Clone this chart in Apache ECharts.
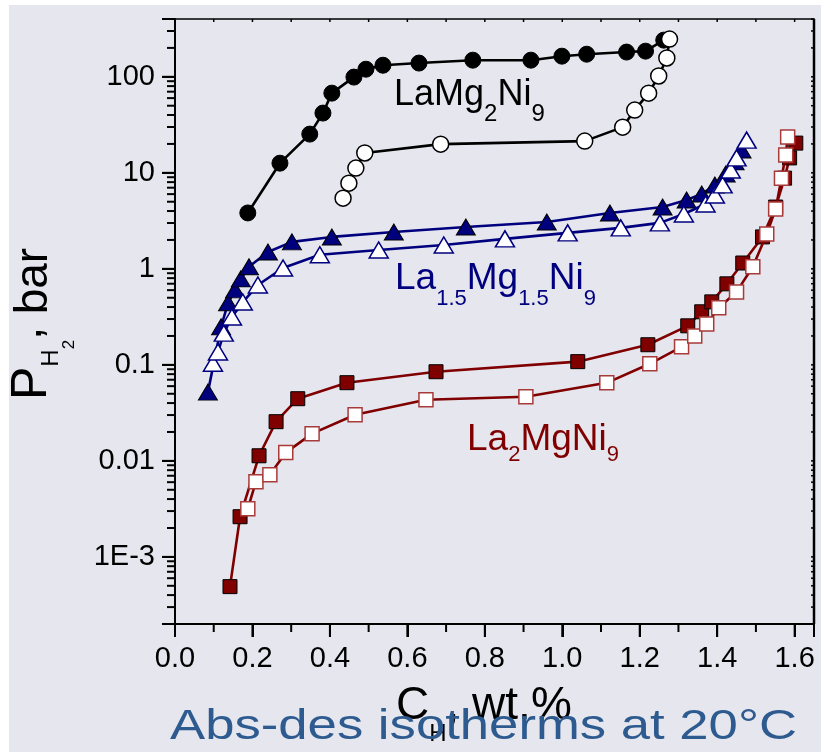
<!DOCTYPE html>
<html><head><meta charset="utf-8">
<script src="https://cdn.jsdelivr.net/npm/echarts@6/dist/echarts.min.js"></script>
<style>html,body{margin:0;padding:0;background:#fff}#c{width:821px;height:752px}</style>
</head><body><div id="c"></div>
<script>
// ---------- data ----------
const lamg2AbsX = [0.188,0.271,0.348,0.382,0.405,0.462,0.493,0.537,0.630,0.769,0.919,0.999,1.063,1.166,1.215,1.262];
const lamg2AbsY = [3.82,12.6,25.3,41.9,67.6,99.3,120,132,139,149,149,164,172,181,185,241];
const lamg2DesX = [0.434,0.449,0.467,0.490,0.686,1.058,1.156,1.187,1.223,1.249,1.270,1.277];
const lamg2DesY = [5.45,7.8,11.2,16.1,19.9,21.4,29.9,45,67.6,102,157,247];

const la15AbsX = [0.085,0.119,0.137,0.155,0.170,0.191,0.240,0.302,0.405,0.565,0.751,0.960,1.123,1.259,1.321,1.360,1.394,1.422,1.445,1.463];
const la15AbsY = [0.052,0.249,0.443,0.604,0.786,1.05,1.50,1.91,2.15,2.42,2.73,3.08,3.82,4.41,5.21,6.02,7.47,9.7,13.0,17.3];
const la15DesX = [0.098,0.111,0.126,0.147,0.175,0.214,0.279,0.374,0.526,0.694,0.852,1.014,1.151,1.252,1.314,1.370,1.394,1.414,1.435,1.450,1.476];
const la15DesY = [0.104,0.136,0.214,0.315,0.451,0.678,1.02,1.40,1.57,1.77,2.05,2.37,2.67,3.01,3.73,4.74,5.88,7.5,10.7,14.3,21.9];

const la2AbsX = [0.142,0.168,0.217,0.261,0.317,0.444,0.674,1.040,1.221,1.324,1.360,1.386,1.425,1.466,1.517,1.551,1.574,1.587,1.603];
const la2AbsY = [4.9e-4,2.62e-3,0.0113,0.0256,0.0444,0.0652,0.0848,0.108,0.162,0.255,0.357,0.453,0.698,1.15,2.15,4.4,8.8,14.3,20.4];
const la2DesX = [0.188,0.209,0.245,0.286,0.354,0.465,0.648,0.906,1.115,1.226,1.308,1.342,1.373,1.404,1.450,1.492,1.528,1.551,1.566,1.577,1.582];
const la2DesY = [3.18e-3,6.07e-3,7.18e-3,0.0122,0.0192,0.0302,0.0433,0.0466,0.065,0.1026,0.154,0.200,0.267,0.393,0.575,1.05,2.31,4.2,8.8,15.3,23.6];

const xMajorTicks = [0,0.2,0.4,0.6,0.8,1.0,1.2,1.4,1.6];
const xMinorTicks = [0.1,0.3,0.5,0.7,0.9,1.1,1.3,1.5];
const yMajorTicks = [0.001,0.01,0.1,1,10,100];
const yTickLabels = ['1E-3','0.01','0.1','1','10','100'];
const yMinorMultipliers = [2,3,4,5,6,7,8,9];
const yDecades = [-4,-3,-2,-1,0,1,2];

const X_MIN = 0, X_MAX = 1.65, Y_MIN = 2e-4, Y_MAX = 400;

// ---------- helpers ----------
const pts = (xs, ys) => xs.map((x, i) => [x, ys[i]]);
const yMinorTicks = [];
yDecades.forEach(k => yMinorMultipliers.forEach(m => {
  const v = Number((m * Math.pow(10, k)).toPrecision(6));
  if (v >= Y_MIN * 0.9999 && v <= Y_MAX * 1.0001) yMinorTicks.push(v);
}));
const yAllTicks = yMajorTicks.concat(yMinorTicks).sort((a, b) => a - b);
const xAllTicks = xMajorTicks.concat(xMinorTicks).sort((a, b) => a - b);

const FONT = '"Liberation Sans", Arial, sans-serif';
const BLACK = '#000000', NAVY = '#00007f', DRED = '#800000';
const mctx = document.createElement('canvas').getContext('2d');
function tw(t, s) { mctx.font = s + 'px ' + FONT; return mctx.measureText(t).width; }
let uid = 0;
function composite(x0, base, parts, color) {
  const els = []; let x = x0;
  parts.forEach(([t, s, dy]) => {
    els.push({ id: 'txt' + (uid++), type: 'text', x: x, y: base + dy - 0.35 * s, z: 10,
      style: { text: t, fill: color, font: s + 'px ' + FONT, textAlign: 'left', verticalAlign: 'middle' } });
    x += tw(t, s);
  });
  return els;
}
// rotated (bottom-to-top) composite label, baseline at screen x = bx, starting at screen y = by
function compositeRotated(bx, by, parts, color) {
  const els = []; let l = 0;
  parts.forEach(([t, s, dy]) => {
    const ly = dy - 0.35 * s;
    els.push({ id: 'rtxt' + (uid++), type: 'text', x: bx + ly, y: by - l, rotation: Math.PI / 2, z: 10,
      style: { text: t, fill: color, font: s + 'px ' + FONT, textAlign: 'left', verticalAlign: 'middle' } });
    l += tw(t, s);
  });
  return els;
}

function lineSeries(name, data, symbol, size, lineColor, fill, border, bw, z) {
  return {
    name, type: 'line', data, symbol, symbolSize: size, showSymbol: true, showAllSymbol: true,
    xAxisIndex: 0, yAxisIndex: 0, z: z, animation: false,
    lineStyle: { color: lineColor, width: 2.6 },
    itemStyle: { color: fill, borderColor: border, borderWidth: bw, opacity: 1 }
  };
}

const xLabelFmt = v => xMajorTicks.some(t => Math.abs(t - v) < 1e-6) ? Number(v).toFixed(1) : '';
const yLabelFmt = v => {
  const e = Math.log10(v), k = Math.round(e);
  return (Math.abs(e - k) < 1e-6 && k >= -3 && k <= 2) ? yTickLabels[k + 3] : '';
};

const chart = echarts.init(document.getElementById('c'), null, { renderer: 'canvas' });

chart.setOption({
  backgroundColor: '#e6e6ee',
  animation: false,
  grid: { left: 175, right: 7, top: 19, bottom: 128, containLabel: false, outerBoundsMode: 'none',
    show: true, borderColor: BLACK, borderWidth: 1.5, backgroundColor: 'transparent' },
  xAxis: [
    { type: 'value', min: X_MIN, max: X_MAX, interval: 0.2, splitLine: { show: false },
      axisTick: { show: true, length: 13, lineStyle: { color: BLACK, width: 2 } },
      axisLine: { show: true, onZero: false, lineStyle: { color: BLACK, width: 2 } },
      axisLabel: { show: true, margin: 20, color: BLACK, fontSize: 29, fontFamily: FONT, formatter: xLabelFmt } }
  ],
  yAxis: [
    { type: 'log', min: Y_MIN, max: Y_MAX, splitLine: { show: false },
      axisTick: { show: true, length: 13, lineStyle: { color: BLACK, width: 2 } },
      axisLine: { show: true, onZero: false, lineStyle: { color: BLACK, width: 2 } },
      axisLabel: { show: true, margin: 20, color: BLACK, fontSize: 29, fontFamily: FONT, formatter: yLabelFmt } }
  ],
  series: [
    lineSeries('LaMg2Ni9 abs', pts(lamg2AbsX, lamg2AbsY), 'circle', 16, BLACK, BLACK, BLACK, 1, 3),
    lineSeries('LaMg2Ni9 des', pts(lamg2DesX, lamg2DesY), 'circle', 16, BLACK, '#ffffff', BLACK, 1.5, 4),
    lineSeries('La1.5Mg1.5Ni9 abs', pts(la15AbsX, la15AbsY), 'triangle', [19, 16], NAVY, NAVY, BLACK, 1, 3),
    lineSeries('La1.5Mg1.5Ni9 des', pts(la15DesX, la15DesY), 'triangle', [19, 16], NAVY, '#ffffff', NAVY, 1.5, 4),
    lineSeries('La2MgNi9 abs', pts(la2AbsX, la2AbsY), 'rect', 14, DRED, DRED, BLACK, 1, 3),
    lineSeries('La2MgNi9 des', pts(la2DesX, la2DesY), 'rect', 14, DRED, '#ffffff', '#a83a3a', 1.5, 4)
  ]
});

// tick marks and right frame: positions obtained from the chart's own axis scales
const tickEls = [];
function toPx(x, y) { return chart.convertToPixel({ xAxisIndex: 0, yAxisIndex: 0 }, [x, y]); }
function addTicks(values, axis, side, len, width) {
  values.forEach(v => {
    const p = axis === 'x' ? toPx(v, side === 'bottom' ? Y_MIN : Y_MAX) : toPx(side === 'left' ? X_MIN : X_MAX, v);
    const shape = axis === 'x'
      ? { x1: p[0], y1: p[1], x2: p[0], y2: p[1] + len }
      : { x1: p[0], y1: p[1], x2: p[0] - len, y2: p[1] };
    tickEls.push({ id: 'tick' + (uid++), type: 'line', shape: shape, z: 8, style: { stroke: BLACK, lineWidth: width } });
  });
}
addTicks(xMajorTicks, 'x', 'bottom', 13, 2);
addTicks(xMinorTicks, 'x', 'bottom', 8, 2);
addTicks(xAllTicks, 'x', 'top', 3, 1.5);
addTicks(yMajorTicks, 'y', 'left', 13, 2);
addTicks(yMinorTicks, 'y', 'left', 8, 2);
addTicks(yAllTicks, 'y', 'right', 3, 1.5);
const rb = toPx(X_MAX, Y_MIN), rt = toPx(X_MAX, Y_MAX);
tickEls.push({ id: 'rightFrame', type: 'line', shape: { x1: rb[0], y1: rb[1], x2: rt[0], y2: rt[1] }, z: 8,
  style: { stroke: BLACK, lineWidth: 2.5 } });

chart.setOption({
  graphic: [
    { id: 'wtop', type: 'rect', shape: { x: 0, y: 0, width: 821, height: 5 }, style: { fill: '#ffffff' }, z: 1 },
    { id: 'wleft', type: 'rect', shape: { x: 0, y: 0, width: 9, height: 752 }, style: { fill: '#ffffff' }, z: 1 },
    ...tickEls
  ]
});

const titleText = 'Abs-des isotherms at 20°C';
const titleW = tw(titleText, 42);
chart.setOption({
  graphic: [
    ...composite(394, 108, [['LaMg', 36, 0], ['2', 24, 15], ['Ni', 36, 0], ['9', 24, 15]], BLACK),
    ...composite(395, 292, [['La', 37, 0], ['1.5', 22, 15], ['Mg', 37, 0], ['1.5', 22, 15], ['Ni', 37, 0], ['9', 22, 15]], NAVY),
    ...composite(467, 453, [['La', 37, 0], ['2', 22, 10], ['MgNi', 37, 0], ['9', 22, 10]], DRED),
    ...composite(396, 722, [['C', 46, 0], ['H', 24, 21], [', wt.%', 46, 0]], BLACK),
    ...compositeRotated(50, 400, [['P', 50, 0], ['H', 24, 10], ['2', 17, 25], [',', 46, -6], [' bar', 46, 0]], BLACK),
    { id: 'title', type: 'text', x: 170, y: 742 - 0.35 * 42, scaleX: 627 / titleW, z: 20,
      style: { text: titleText, fill: '#2e5b8f', font: '42px ' + FONT, textAlign: 'left', verticalAlign: 'middle' } }
  ]
});
</script>
</body></html>
